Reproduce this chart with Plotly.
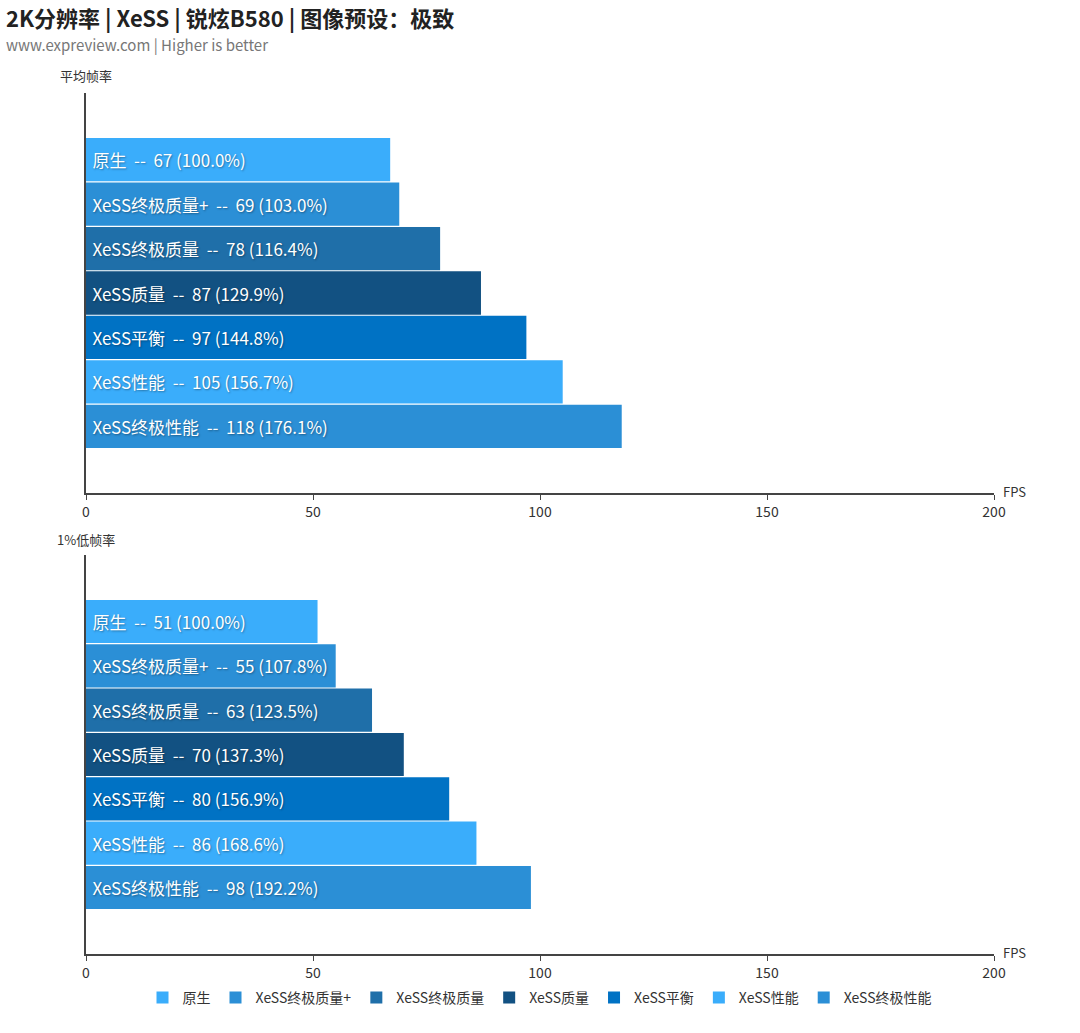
import plotly.graph_objects as go

categories = ["原生", "XeSS终极质量+", "XeSS终极质量", "XeSS质量", "XeSS平衡", "XeSS性能", "XeSS终极性能"]
avg_fps = [67, 69, 78, 87, 97, 105, 118]
avg_pct = ["100.0%", "103.0%", "116.4%", "129.9%", "144.8%", "156.7%", "176.1%"]
low_fps = [51, 55, 63, 70, 80, 86, 98]
low_pct = ["100.0%", "107.8%", "123.5%", "137.3%", "156.9%", "168.6%", "192.2%"]
colors = ["#3aadfb", "#2b8fd6", "#1f6fa9", "#125182", "#0072c4", "#3aadfb", "#2b8fd6"]
x_ticks = [0, 50, 100, 150, 200]

W, H = 1080, 1033
FONT = "Noto Sans CJK SC"
NB = "\u00a0"

fig = go.Figure()

def px_y(p):
    return 1 - p / H

panels = [("x", "y", avg_fps, avg_pct), ("x2", "y2", low_fps, low_pct)]

for pi, (xa, ya, vals, pcts) in enumerate(panels):
    for i, c in enumerate(categories):
        label = f"\u2009{c}{NB*2}--{NB*2}{vals[i]} ({pcts[i]})"
        fig.add_trace(go.Bar(
            x=[vals[i]], y=[i], orientation="h", width=0.975,
            marker=dict(color=colors[i], line=dict(width=0)),
            name=c, legendgroup=c, showlegend=(pi == 0),
            text=[label], textposition="inside", insidetextanchor="start",
            constraintext="none",
            textfont=dict(color="white", size=17, family=FONT,
                          shadow="1px 1px 2px rgba(0,0,0,0.35)"),
            xaxis=xa, yaxis=ya, hoverinfo="skip",
        ))

axis_common = dict(
    range=[0, 200], tickvals=x_ticks, showgrid=False, zeroline=False,
    showline=True, linecolor="#444", linewidth=1.5,
    ticks="outside", ticklen=5, tickcolor="#444",
    tickfont=dict(size=14, color="#333", family=FONT), automargin=False,
)
yaxis_common = dict(
    showgrid=False, zeroline=False, showticklabels=False,
    showline=True, linecolor="#444", linewidth=1.5, ticks="", automargin=False,
    range=[7.5, -1.5],
)

fig.update_layout(
    width=W, height=H,
    margin=dict(l=0, r=0, t=0, b=0),
    paper_bgcolor="white", plot_bgcolor="white",
    barmode="overlay",
    font=dict(family=FONT, color="#333"),
    xaxis=dict(domain=[86 / W, 994 / W], anchor="y", **axis_common),
    yaxis=dict(domain=[px_y(493), px_y(93)], anchor="x", **yaxis_common),
    xaxis2=dict(domain=[86 / W, 994 / W], anchor="y2", **axis_common),
    yaxis2=dict(domain=[px_y(954), px_y(555)], anchor="x2", **yaxis_common),
    legend=dict(orientation="h", x=0.5, xanchor="center", y=px_y(998), yanchor="middle",
                font=dict(size=14, color="#333", family=FONT), itemwidth=30,
                traceorder="normal"),
    showlegend=True,
)

annotations = [
    dict(text="<b>2K分辨率 | XeSS | 锐炫B580 | 图像预设：极致</b>", x=5 / W, y=px_y(17),
         xanchor="left", yanchor="middle", font=dict(size=22, color="#222", family=FONT)),
    dict(text="www.expreview.com | Higher is better", x=5 / W, y=px_y(44),
         xanchor="left", yanchor="middle", font=dict(size=15, color="#777", family=FONT)),
    dict(text="平均帧率", x=86 / W, y=px_y(76), xanchor="center", yanchor="middle",
         font=dict(size=13, color="#333", family=FONT)),
    dict(text="1%低帧率", x=86 / W, y=px_y(539), xanchor="center", yanchor="middle",
         font=dict(size=13, color="#333", family=FONT)),
    dict(text="FPS", x=1002 / W, y=px_y(491), xanchor="left", yanchor="middle",
         font=dict(size=13, color="#333", family=FONT)),
    dict(text="FPS", x=1002 / W, y=px_y(952), xanchor="left", yanchor="middle",
         font=dict(size=13, color="#333", family=FONT)),
]
for a in annotations:
    a.update(xref="paper", yref="paper", showarrow=False, borderpad=0)
fig.update_layout(annotations=annotations)

fig.write_html("out.html")
